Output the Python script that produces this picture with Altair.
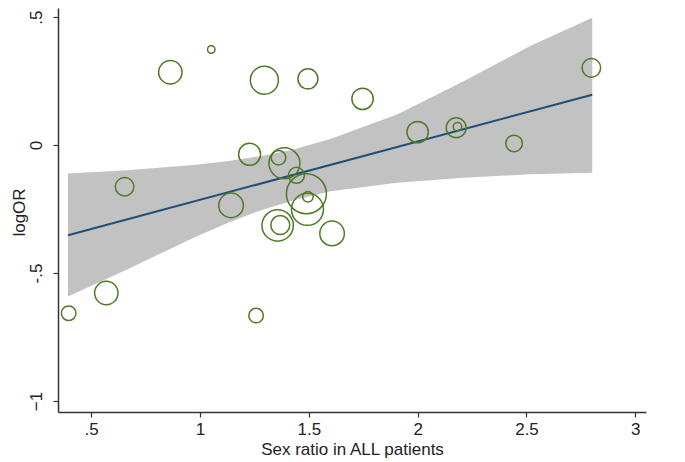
import altair as alt
import pandas as pd

# Study points: sex ratio, logOR, weight (bubble area)
sex_ratio = [0.397, 0.570, 0.654, 0.864, 1.052, 1.296, 1.496, 1.228, 1.361, 1.388,
             1.443, 1.489, 1.496, 1.494, 1.143, 1.357, 1.369, 1.607, 1.258, 1.747,
             2.000, 2.177, 2.183, 2.443, 2.798]
log_or = [-0.657, -0.578, -0.1625, 0.285, 0.374, 0.254, 0.259, -0.036, -0.049, -0.071,
          -0.118, -0.190, -0.2016, -0.251, -0.2355, -0.314, -0.3125, -0.345, -0.666, 0.181,
          0.051, 0.068, 0.072, 0.0066, 0.302]
weight = [53, 137, 86, 137, 14, 196, 100, 121, 53, 240,
          64, 400, 28, 256, 151, 246, 90, 151, 53, 114,
          114, 100, 18, 69, 86]

# Fitted line and confidence band
fit_x = [0.394, 2.802]
fit_y = [-0.352, 0.197]
band_x = [0.394, 0.665, 0.971, 1.124, 1.277, 1.43, 1.599, 1.905, 2.211, 2.517, 2.802]
band_hi = [-0.111, -0.098, -0.078, -0.063, -0.043, -0.017, 0.024, 0.12, 0.25, 0.387, 0.498]
band_lo = [-0.592, -0.486, -0.362, -0.305, -0.255, -0.215, -0.180, -0.147, -0.127, -0.114, -0.108]

x_ticks = [0.5, 1, 1.5, 2, 2.5, 3]
y_ticks = [-1, -0.5, 0, 0.5]

pts = pd.DataFrame({"x": sex_ratio, "y": log_or, "w": weight})
fit = pd.DataFrame({"x": fit_x, "y": fit_y})
band = pd.DataFrame({"x": band_x, "lo": band_lo, "hi": band_hi})

FONT = "Liberation Sans"
lab_expr = "datum.value == 0.5 ? '.5' : datum.value == -0.5 ? '-.5' : format(datum.value, '~g')"

xscale = alt.Scale(domain=[0.348, 3.049], nice=False, zero=False)
yscale = alt.Scale(domain=[-1.043, 0.536], nice=False, zero=False)

xaxis = alt.Axis(values=x_ticks, labelExpr=lab_expr, grid=False, title="Sex ratio in ALL patients",
                 tickSize=5, labelPadding=4, titleY=37, titleBaseline="middle")
yaxis = alt.Axis(values=y_ticks, labelExpr=lab_expr, grid=False, title="logOR",
                 tickSize=5, labelPadding=8, labelAngle=270, labelAlign="center",
                 labelBaseline="bottom", titleAngle=270, titleX=-39, titleY=204,
                 titleAlign="center", titleBaseline="middle")

band_layer = alt.Chart(band).mark_area(color="#c2c2c2", opacity=1).encode(
    x=alt.X("x:Q", scale=xscale, axis=xaxis),
    y=alt.Y("lo:Q", scale=yscale, axis=yaxis),
    y2="hi:Q",
)

line_layer = alt.Chart(fit).mark_line(color="#1f4e79", strokeWidth=2).encode(
    x=alt.X("x:Q", scale=xscale),
    y=alt.Y("y:Q", scale=yscale),
)

pt_layer = alt.Chart(pts).mark_point(shape="circle", filled=False, color="#4f7a28",
                                      strokeWidth=1.5, opacity=1).encode(
    x=alt.X("x:Q", scale=xscale),
    y=alt.Y("y:Q", scale=yscale),
    size=alt.Size("w:Q", scale=alt.Scale(domain=[0, 400], range=[0, 1600], zero=True), legend=None),
)

chart = alt.layer(band_layer, line_layer, pt_layer).properties(
    width=588, height=404,
    autosize=alt.AutoSizeParams(type="none"),
    padding={"left": 50, "top": 0, "right": 30, "bottom": 48},
    background="white",
).configure_view(stroke=None).configure_axis(
    labelFont=FONT, titleFont=FONT, labelFontSize=17, titleFontSize=17,
    labelColor="#222222", titleColor="#222222", titleFontWeight="normal",
    domainColor="#333333", tickColor="#333333", domainWidth=1.5, tickWidth=1.2,
)

chart.save("out.html", embed_options={"renderer": "svg", "actions": False})
